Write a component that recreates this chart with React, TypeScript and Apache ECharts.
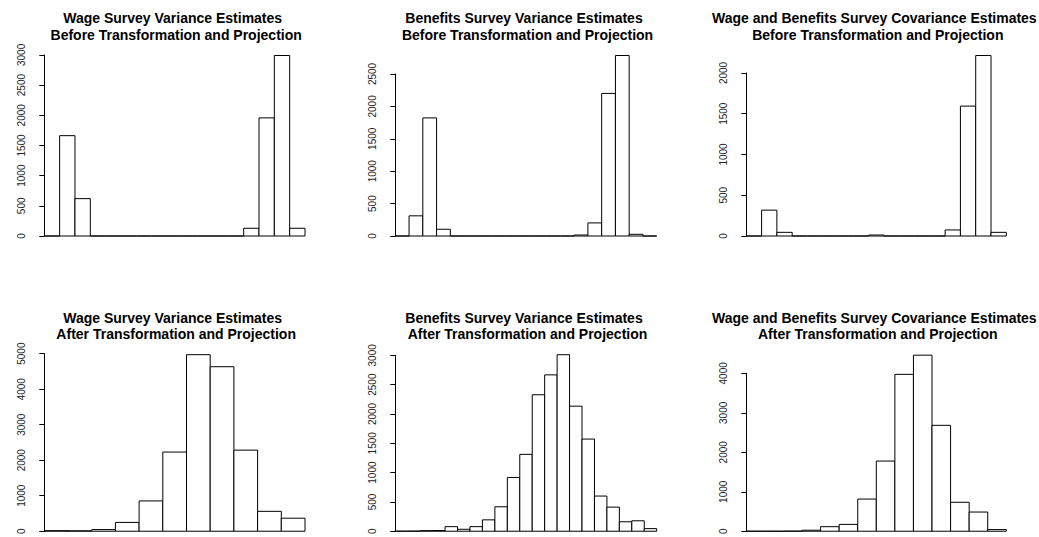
import { useEffect, useRef } from "react";
import * as echarts from "echarts";

// ---- Data (histogram bin counts) ----
const wageBefore = [0, 1662, 619, 0, 0, 0, 0, 0, 0, 0, 0, 0, 0, 128, 1957, 2990, 128];
const benefitsBefore = [0, 311, 1822, 104, 0, 0, 0, 0, 0, 0, 0, 0, 0, 15, 202, 2200, 2785, 26, 0];
const covBefore = [0, 317, 45, 0, 0, 0, 0, 0, 12, 0, 0, 0, 0, 74, 1593, 2214, 45];
const wageAfter = [15, 12, 46, 248, 853, 2229, 4972, 4633, 2284, 560, 367];
const benefitsAfter = [1, 2, 10, 12, 78, 33, 78, 194, 417, 917, 1311, 2328, 2667, 3011, 2133, 1572, 600, 411, 161, 178, 44];
const covAfter = [0, 0, 3, 25, 115, 173, 815, 1778, 3975, 4461, 2683, 733, 486, 41];

const titleLine1 = [
  "Wage Survey Variance Estimates",
  "Benefits Survey Variance Estimates",
  "Wage and Benefits Survey Covariance Estimates",
];
const titleLine2 = ["Before Transformation and Projection", "After Transformation and Projection"];

const yTickMax = [3000, 2500, 2000, 5000, 3000, 4000];
const yTickStep = [500, 500, 500, 1000, 500, 1000];

const panels = [wageBefore, benefitsBefore, covBefore, wageAfter, benefitsAfter, covAfter];

// ---- Layout ----
const colBinLeft = [44.3, 395.3, 746.3];
const colBinRight = [305, 656.7, 1006.3];
const rowBase = [236, 535.2];
const barMaxPx = 180.5;
const titleY = [
  [18.3, 35],
  [317.6, 334.3],
];
const FONT = "'Liberation Sans', Arial, Helvetica, sans-serif";

export default function App() {
  const ref = useRef<HTMLDivElement>(null);
  useEffect(() => {
    if (!ref.current) return;
    const chart = echarts.init(ref.current, undefined, { renderer: "svg" });
    const grids: any[] = [];
    const xAxes: any[] = [];
    const yAxes: any[] = [];
    const series: any[] = [];
    const graphics: any[] = [];

    panels.forEach((vals, p) => {
      const col = p % 3;
      const row = Math.floor(p / 3);
      const n = vals.length;
      const span = colBinRight[col] - colBinLeft[col];
      const left = colBinLeft[col] - 0.04 * span;
      const width = 1.08 * span;
      const base = rowBase[row];
      const maxV = Math.max(...vals);
      const topPx = base - (yTickMax[p] * barMaxPx) / maxV;
      grids.push({ left, width, top: topPx, height: base - topPx, containLabel: false });
      xAxes.push({ type: "value", gridIndex: p, min: -0.04 * n, max: 1.04 * n, show: false });
      yAxes.push({
        type: "value",
        gridIndex: p,
        min: 0,
        max: yTickMax[p],
        interval: yTickStep[p],
        axisLine: { show: true, lineStyle: { color: "#000", width: 1 } },
        axisTick: { show: true, length: 5, lineStyle: { color: "#000", width: 1 } },
        axisLabel: {
          rotate: 90,
          fontSize: 10,
          color: "#222",
          margin: 7,
          fontFamily: FONT,
          formatter: (v: number) => String(v),
        },
        splitLine: { show: false },
      });
      series.push({
        type: "custom",
        xAxisIndex: p,
        yAxisIndex: p,
        clip: false,
        data: vals.map((v, i) => [i, v]),
        renderItem: (_params: any, api: any) => {
          const i = api.value(0);
          const c = api.value(1);
          const p0 = api.coord([i, 0]);
          const p1 = api.coord([i + 1, c]);
          return {
            type: "rect",
            shape: { x: p0[0], y: p1[1], width: p1[0] - p0[0], height: p0[1] - p1[1] },
            style: { fill: "#fff", stroke: "#000", lineWidth: 1 },
          };
        },
      });
      const cx = left + width / 2;
      graphics.push({
        type: "text",
        x: cx - 2,
        y: titleY[row][0],
        style: {
          text: titleLine1[col],
          fill: "#000",
          font: `bold 14px ${FONT}`,
          textAlign: "center",
          textVerticalAlign: "middle",
        },
      });
      graphics.push({
        type: "text",
        x: cx + 1.5,
        y: titleY[row][1],
        style: {
          text: titleLine2[row],
          fill: "#000",
          font: `bold 14px ${FONT}`,
          textAlign: "center",
          textVerticalAlign: "middle",
        },
      });
    });

    chart.setOption({
      animation: false,
      backgroundColor: "#fff",
      grid: grids,
      xAxis: xAxes,
      yAxis: yAxes,
      series,
      graphic: graphics,
    });
    return () => chart.dispose();
  }, []);
  return (
    <div
      ref={ref}
      style={{ position: "absolute", left: 0, top: 0, width: 1039, height: 537, background: "#fff" }}
    />
  );
}
